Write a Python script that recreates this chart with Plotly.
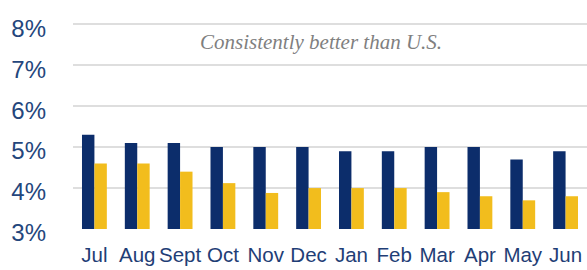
import plotly.graph_objects as go

months = ["Jul", "Aug", "Sept", "Oct", "Nov", "Dec", "Jan", "Feb", "Mar", "Apr", "May", "Jun"]
local_rate = [5.3, 5.1, 5.1, 5.0, 5.0, 5.0, 4.9, 4.9, 5.0, 5.0, 4.7, 4.9]
us_rate = [4.6, 4.6, 4.4, 4.12, 3.88, 4.0, 4.0, 4.0, 3.9, 3.8, 3.7, 3.8]
y_ticks = [3, 4, 5, 6, 7, 8]
y_labels = ["3%", "4%", "5%", "6%", "7%", "8%"]
note = "Consistently better than U.S."

fig = go.Figure()
fig.add_trace(go.Bar(x=months, y=[v - 3 for v in local_rate], base=3, marker_color="#0c2d6b",
                     marker_line_width=0, name="Local"))
fig.add_trace(go.Bar(x=months, y=[v - 3 for v in us_rate], base=3, marker_color="#f2bd1d",
                     marker_line_width=0, name="U.S."))

fig.update_layout(
    width=587, height=270,
    margin=dict(l=73, r=0, t=23, b=41),
    paper_bgcolor="white", plot_bgcolor="white",
    barmode="group", bargap=0.42, bargroupgap=0,
    showlegend=False,
    font=dict(family="Liberation Sans, Arial, sans-serif"),
)
fig.update_yaxes(
    range=[3, 8.03], tickvals=y_ticks, ticktext=y_labels,
    showgrid=True, gridcolor="#dedede", gridwidth=2,
    zeroline=False, showline=False, automargin=False,
    tickfont=dict(size=24, color="#24467c"),
    ticklabelstandoff=26, ticklabelshift=4,
)
fig.update_xaxes(
    showgrid=False, showline=False, zeroline=False, automargin=False,
    tickfont=dict(size=20.5, color="#1f3e76"),
    ticklabelstandoff=11,
)
fig.add_annotation(
    text="<i>" + note + "</i>", xref="paper", yref="paper", x=0.4825, y=0.91, showarrow=False,
    font=dict(family="Liberation Serif, serif", size=21, color="#7f7f7f"),
    xanchor="center", yanchor="middle",
)
fig.write_html(
    "out.html",
    config={"displayModeBar": False},
    post_script="document.body.style.margin='0';document.body.style.overflow='hidden';",
)
